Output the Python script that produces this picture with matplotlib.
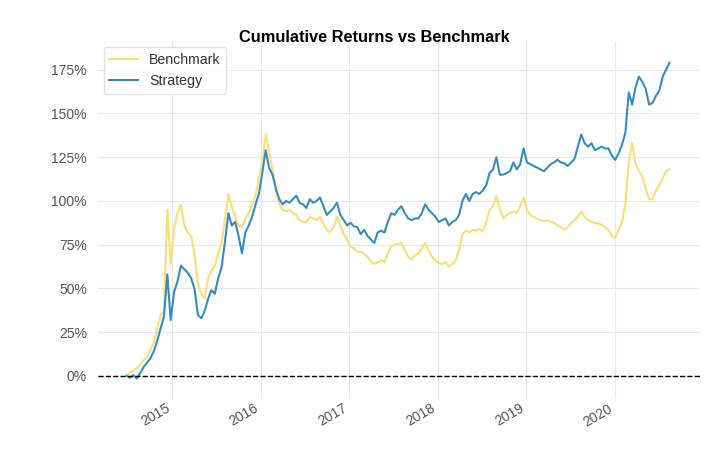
import pandas as pd
import matplotlib
matplotlib.use('Agg')
import matplotlib.pyplot as plt
import matplotlib.dates as mdates
from matplotlib.ticker import FuncFormatter

plt.rcParams['font.family'] = ['Liberation Sans', 'DejaVu Sans']

# Cumulative returns (in %), sampled every two weeks
dates = pd.date_range('2014-06-27', periods=161, freq='14D')

strategy = [
    0, -1, 0.5, -1.5, 1.5, 5, 7.5, 10, 14, 20,
    27, 34, 58, 32, 48, 54, 63, 61, 59, 56,
    50, 35, 33, 37, 44, 49, 47, 56, 62, 77,
    93, 86, 88, 80, 70, 82, 86, 91, 98, 104,
    116, 129, 119, 115, 107, 101, 98, 100, 99, 101,
    103, 99, 98, 96, 101, 99, 100, 102, 97, 92,
    94, 96, 99, 92, 89, 86, 87.5, 85.5, 85, 81,
    83.5, 80, 78, 76, 82, 83, 82, 88, 93, 92,
    95, 97, 93, 90, 89, 90, 90, 93, 98, 95,
    93, 91, 88, 89, 90, 86, 88, 89, 92, 100,
    104, 100, 104, 105, 104, 106, 109, 116, 118, 125,
    115, 115, 116, 117, 122, 118, 121, 130, 122, 121,
    120, 119, 118, 117, 119, 121, 122, 123.5, 122, 121.5,
    120, 122, 124, 131, 138, 133, 131, 133, 129, 130,
    131, 130, 130, 126, 123.5, 127, 132, 139, 162, 155,
    165, 171, 168, 164, 155, 156, 160, 163, 171, 175,
    179,
]

benchmark = [
    0, 2, 3, 4.5, 6, 9, 11, 15, 19, 27,
    35, 37, 95, 64, 84, 93, 98, 86, 82, 80,
    70, 53, 47, 44, 56, 60, 63, 70, 76, 90,
    104, 97, 91, 86, 85, 90, 93, 98, 103, 113,
    122, 138, 128, 118, 106, 98, 95, 94, 95, 93,
    92, 89, 88, 88, 91, 90, 89, 91, 87, 83.5,
    82, 85, 91, 86, 81, 78, 74, 73, 71, 71,
    70, 68, 65.5, 64, 65, 66, 65, 70, 74, 75,
    75.5, 76, 72, 68, 66.5, 69, 70, 73, 76, 72,
    68, 66, 64.5, 64, 65, 62.5, 64, 66, 72, 81,
    83, 82, 83.5, 83, 84, 82.6, 88, 95, 97, 103,
    96, 90, 92, 93, 94, 93, 97, 102, 95, 92,
    91, 90, 89, 88.5, 89, 88, 87.4, 86, 85, 83.5,
    85, 87.4, 89, 91, 94, 91, 89, 88, 87.4, 87,
    86.4, 85, 83.5, 80, 79, 83.5, 88, 98, 122, 133,
    121, 117, 114, 107, 101, 101, 106, 109, 113, 117,
    118,
]

df = pd.DataFrame({'Benchmark': benchmark, 'Strategy': strategy}, index=dates)

fig = plt.figure(figsize=(7.06, 4.58), dpi=100)
ax = fig.add_axes([0.1388, 0.1295, 0.8527, 0.7795])

ax.plot(df.index, df['Benchmark'], color='#fedd78', lw=1.5, label='Benchmark')
ax.plot(df.index, df['Strategy'], color='#348dc1', lw=1.5, label='Strategy')
ax.axhline(0, color='black', ls='--', lw=1)

ax.set_xlim(pd.Timestamp('2014-03-01'), pd.Timestamp('2020-12-18'))
ax.set_ylim(-13, 191)
ax.yaxis.set_major_formatter(FuncFormatter(lambda v, _: f'{v:.0f}%'))
ax.xaxis.set_major_locator(mdates.YearLocator())
ax.xaxis.set_major_formatter(mdates.DateFormatter('%Y'))

for s in ax.spines.values():
    s.set_visible(False)
ax.grid(True, color='#e8e8e8', lw=0.8)
ax.set_axisbelow(True)
ax.tick_params(axis='y', length=0, labelsize=10, colors='#555555', pad=8)
ax.tick_params(axis='x', length=0, labelsize=10, colors='#555555', pad=2)
for lbl in ax.get_xticklabels():
    lbl.set_rotation(30)
    lbl.set_ha('right')

leg = ax.legend(loc='upper left', fontsize=10.2, frameon=True, fancybox=True,
                borderaxespad=0.4)
leg.get_frame().set_edgecolor('#dddddd')
for t in leg.get_texts():
    t.set_color('#333333')

fig.text(374 / 706, 1 - 41.7 / 458, 'Cumulative Returns vs Benchmark',
         ha='center', va='baseline', fontweight='bold', fontsize=11.8,
         color='black')

fig.savefig('out.png', dpi=100, facecolor='white')
